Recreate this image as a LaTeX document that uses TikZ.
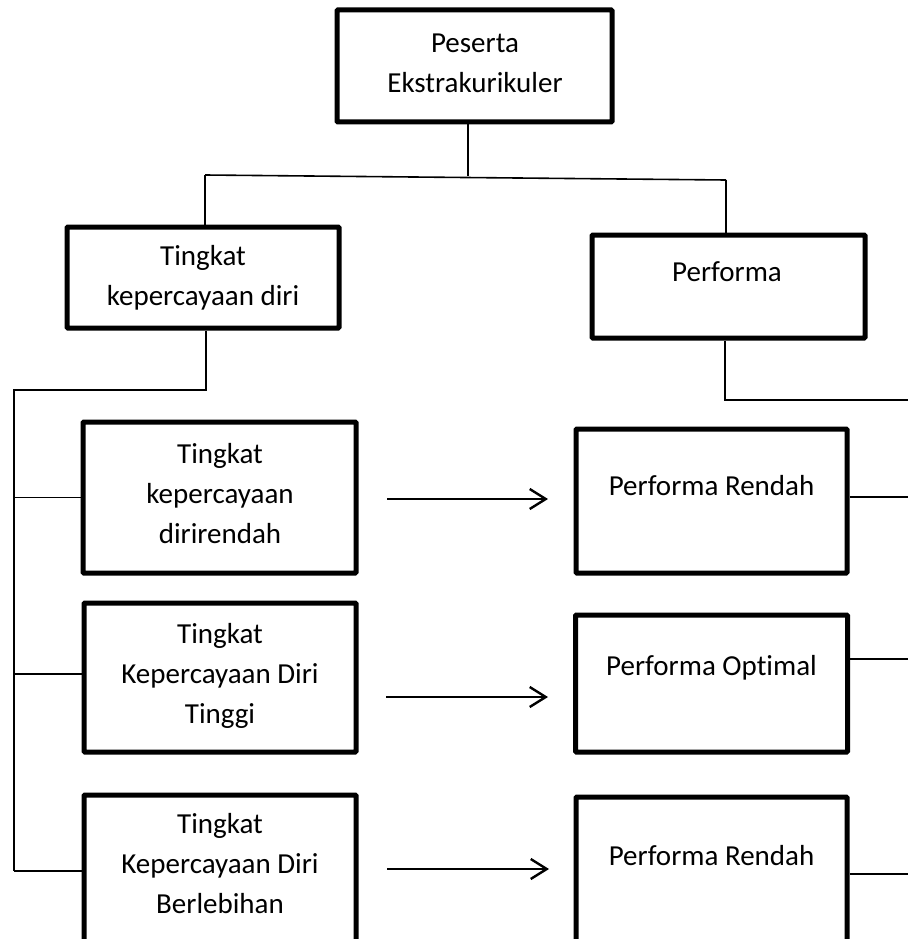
\documentclass[tikz,border=0pt]{standalone}
\usepackage{fontspec}
\setmainfont{Carlito}[Ligatures={NoCommon,NoRequired,NoContextual}]
\usetikzlibrary{arrows.meta}
\begin{document}
\begin{tikzpicture}[x=1pt,y=-1pt,
  box/.style={draw=black,line width=5pt,rounded corners=1pt,minimum width=#1,inner sep=0pt},
  txt/.style={align=center,font=\fontsize{29}{40}\selectfont,inner sep=0pt},
  conn/.style={line width=1.6pt},
  arr/.style={line width=2.2pt,-{Straight Barb[length=16pt,width=20pt,line width=2.4pt]}}]
\useasboundingbox (0,0) rectangle (908,939);
% boxes
\node[box=275pt,minimum height=112pt] (top) at (474.5,66) {};
\node[box=272pt,minimum height=101pt] (kd) at (203,277.5) {};
\node[box=273pt,minimum height=103pt] (pf) at (728.5,286.5) {};
\node[box=273pt,minimum height=151pt] (b1) at (219.5,497.5) {};
\node[box=272pt,minimum height=149pt] (b2) at (220,677.5) {};
\node[box=272pt,minimum height=150pt] (b3) at (220,870) {};
\node[box=271pt,minimum height=144pt] (p1) at (711.5,501) {};
\node[box=272pt,minimum height=137pt] (p2) at (711.5,683.5) {};
\node[box=271pt,minimum height=150pt] (p3) at (711.5,872) {};
% texts
\node[txt] (ttop) at (475,63) {Peserta\\Ekstrakurikuler};
\node[txt] (tkd) at (203,278) {Tingkat\\kepercayaan diri};
\node[txt] (tpf) at (727,272) {Performa};
\node[txt] (tb1) at (220,494) {Tingkat\\kepercayaan\\dirirendah};
\node[txt] (tb2) at (220,676) {Tingkat\\Kepercayaan Diri\\Tinggi};
\node[txt] (tb3) at (220,864) {Tingkat\\Kepercayaan Diri\\Berlebihan};
\node[txt] (tp1) at (711.5,486) {Performa Rendah};
\node[txt] (tp2) at (711.5,668) {Performa Optimal};
\node[txt] (tp3) at (711.5,856) {Performa Rendah};
% connector points
\coordinate (j0) at (468,176);
\coordinate (jl) at (205,175);
\coordinate (jr) at (726,180);
\coordinate (k1) at (206,390);
\coordinate (k2) at (14,390);
\coordinate (k3) at (14,871);
\coordinate (q1) at (725,400);
\coordinate (q2) at (908,400);
\coordinate (r1) at (908,497);
\coordinate (r2) at (908,659);
\coordinate (r3) at (908,874);
\coordinate (a1s) at (387,499);
\coordinate (a1e) at (548,499);
\coordinate (a2s) at (386,697);
\coordinate (a2e) at (548,697);
\coordinate (a3s) at (387,869);
\coordinate (a3e) at (549,869);
% connectors
\draw[conn] (top.south -| j0) -- (j0);
\draw[conn] (jl) -- (jr);
\draw[conn] (jl) -- (kd.north -| jl);
\draw[conn] (jr) -- (pf.north -| jr);
\draw[conn] (kd.south -| k1) -- (k1) -- (k2) -- (k3);
\draw[conn] (k2 |- b1.west) -- (b1.west);
\draw[conn] (14,674) -- (b2.west |- 0,674);
\draw[conn] (k3) -- (b3.west |- k3);
\draw[conn] (pf.south -| q1) -- (q1) -- (q2);
\draw[conn] (p1.east |- r1) -- (r1);
\draw[conn] (p2.east |- r2) -- (r2);
\draw[conn] (p3.east |- r3) -- (r3);
\draw[arr] (a1s) -- (a1e);
\draw[arr] (a2s) -- (a2e);
\draw[arr] (a3s) -- (a3e);
\end{tikzpicture}
\end{document}
